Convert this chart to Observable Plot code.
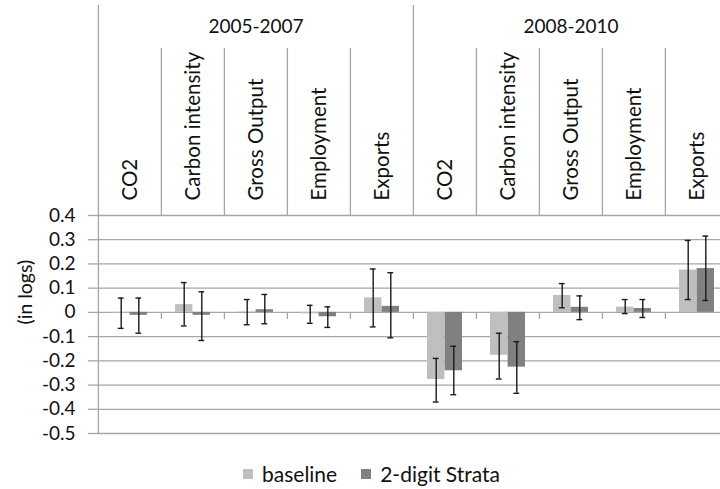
<!DOCTYPE html>
<html>
<head>
<meta charset="utf-8">
<script src="https://cdn.jsdelivr.net/npm/d3@7"></script>
<script src="https://cdn.jsdelivr.net/npm/@observablehq/plot@0.6"></script>
<style>
  html, body { margin: 0; padding: 0; background: #fff; overflow: hidden; }
  #wrap { position: relative; width: 720px; height: 489px; overflow: hidden; }
  #chart svg { max-width: none !important; display: block; }
  #legend { position: absolute; left: 243px; top: 461px; display: flex; align-items: center;
            font-family: Lato, "Open Sans", sans-serif; font-size: 21px; color: #111; }
  #legend .sw { width: 10px; height: 10px; display: inline-block; margin-right: 9px; }
  #legend .item { display: flex; align-items: center; margin-right: 24px; }
</style>
</head>
<body>
<div id="wrap">
  <div id="chart"></div>
  <div id="legend"></div>
</div>
<script>
// ---- data ----
const periods = ["2005-2007", "2008-2010"];
const variables = ["CO2", "Carbon intensity", "Gross Output", "Employment", "Exports"];
const seriesNames = ["baseline", "2-digit Strata"];
const seriesColors = ["#bfbfbf", "#808080"];
const yTicks = [0.4, 0.3, 0.2, 0.1, 0, -0.1, -0.2, -0.3, -0.4, -0.5];

// values by (period, variable) in order
const baseline     = [-0.003, 0.032, 0.002, -0.006, 0.060, -0.277, -0.177, 0.070, 0.022, 0.175];
const baselineLow  = [-0.066, -0.056, -0.051, -0.045, -0.060, -0.370, -0.275, 0.019, -0.005, 0.053];
const baselineHigh = [0.059, 0.123, 0.053, 0.029, 0.179, -0.190, -0.086, 0.119, 0.053, 0.297];
const strata       = [-0.012, -0.012, 0.011, -0.018, 0.025, -0.241, -0.226, 0.021, 0.016, 0.181];
const strataLow    = [-0.086, -0.116, -0.047, -0.062, -0.105, -0.340, -0.334, -0.030, -0.021, 0.049];
const strataHigh   = [0.059, 0.085, 0.074, 0.023, 0.164, -0.140, -0.121, 0.068, 0.053, 0.315];

// ---- build tables ----
const keys = [];
periods.forEach(p => variables.forEach(v => keys.push(p + "|" + v)));
const tables = [
  keys.map((k, i) => ({key: k, series: seriesNames[0], value: baseline[i], lo: baselineLow[i], hi: baselineHigh[i]})),
  keys.map((k, i) => ({key: k, series: seriesNames[1], value: strata[i], lo: strataLow[i], hi: strataHigh[i]}))
];
const groupStarts = periods.map(p => p + "|" + variables[0]);
const innerStarts = keys.filter(k => !groupStarts.includes(k));
const groupMids = periods.map(p => ({period: p, key: p + "|" + variables[Math.floor(variables.length / 2)]}));

const font = "Lato, 'Open Sans', sans-serif";
const W = 729, H = 445;
const step = (W - 97) / keys.length;
const off = 8.8;
const barInset = (step - 17.6) / 2;
const capInset = (step - 6) / 2;
const grid = "#a6a6a6";
const ink = "#1a1a1a";

const seriesMarks = tables.flatMap((t, i) => {
  const dx = i === 0 ? -off : off;
  return [
    Plot.barY(t, {x: "key", y1: 0, y2: "value", fill: "series", dx, insetLeft: barInset, insetRight: barInset}),
    Plot.ruleX(t, {x: "key", y1: "lo", y2: "hi", dx, stroke: ink, strokeWidth: 1.4}),
    Plot.tickY(t, {x: "key", y: "lo", dx, insetLeft: capInset, insetRight: capInset, stroke: ink, strokeWidth: 1.4}),
    Plot.tickY(t, {x: "key", y: "hi", dx, insetLeft: capInset, insetRight: capInset, stroke: ink, strokeWidth: 1.4})
  ];
});

const chart = Plot.plot({
  width: W,
  height: H,
  marginLeft: 97,
  marginRight: 0,
  marginTop: 215,
  marginBottom: 12,
  style: {fontFamily: font, fontSize: "19px", color: "#111", background: "white", overflow: "visible"},
  x: {domain: keys, padding: 0, axis: null},
  y: {domain: [-0.5, 0.4], axis: null},
  color: {domain: seriesNames, range: seriesColors},
  marks: [
    // horizontal gridlines
    Plot.ruleY(yTicks, {stroke: grid, strokeWidth: 1.3}),
    // y axis
    Plot.axisY({ticks: yTicks, tickSize: 9, tickPadding: 13, stroke: grid, strokeWidth: 1.3,
      fill: "#111", fontSize: 19, tickFormat: d => d === 0 ? "0" : d.toFixed(1), label: null}),
    // left plot line extended into header
    Plot.ruleX([keys[0]], {x: d => d, dx: -step / 2, insetTop: -210, stroke: grid, strokeWidth: 1.3}),
    // group separators in header
    Plot.ruleX(groupStarts.slice(1), {x: d => d, dx: -step / 2, insetTop: -210, insetBottom: 218, stroke: grid, strokeWidth: 1.3}),
    // category separators in header
    Plot.ruleX(innerStarts, {x: d => d, dx: -step / 2, insetTop: -167, insetBottom: 218, stroke: grid, strokeWidth: 1.3}),
    // small ticks below zero line
    Plot.ruleX(keys.slice(1), {x: d => d, y1: 0, y2: 0, dx: -step / 2, insetBottom: -7, stroke: grid, strokeWidth: 1.3}),
    ...seriesMarks,
    // category labels (top)
    Plot.axisX({anchor: "top", tickSize: 0, tickPadding: 15, tickRotate: -90, fontSize: 20.5, fill: "#111",
      tickFormat: d => d.split("|")[1], label: null}),
    // period labels
    Plot.text(groupMids, {x: "key", text: "period", frameAnchor: "top", dy: -196, fontSize: 19, fill: "#111"}),
    // y label
    Plot.text(["(in logs)"], {frameAnchor: "left", dx: -72, rotate: -90, fontSize: 19.5, fill: "#111"})
  ]
});
document.getElementById("chart").appendChild(chart);

// legend
const legend = document.getElementById("legend");
seriesNames.forEach((s, i) => {
  const item = document.createElement("div");
  item.className = "item";
  const sw = document.createElement("span");
  sw.className = "sw";
  sw.style.background = seriesColors[i];
  item.appendChild(sw);
  item.appendChild(document.createTextNode(s));
  legend.appendChild(item);
});
</script>
</body>
</html>
